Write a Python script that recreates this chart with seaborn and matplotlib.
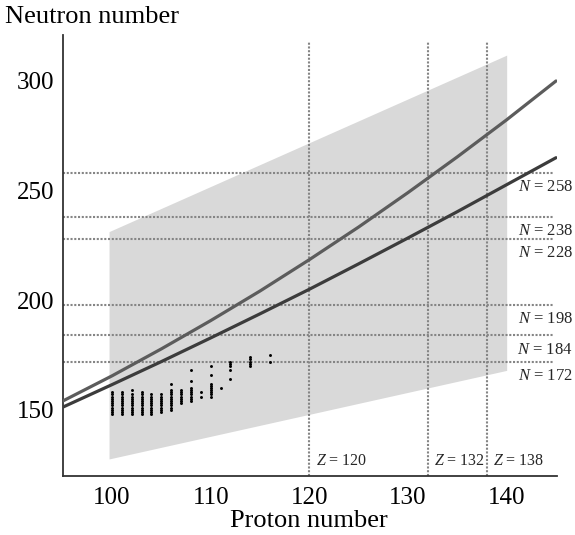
import matplotlib
matplotlib.use("Agg")
import matplotlib.pyplot as plt
import pandas as pd
import seaborn as sns

# Two estimates of the beta-stability line (proton number -> neutron number)
curve_z = [95, 100, 105, 110, 115, 120, 125, 130, 135, 140, 145]
upper_curve_n = [154.0, 165.5, 177.8, 190.7, 204.2, 218.5, 233.4, 249.1, 265.4, 282.3, 300.0]
lower_curve_n = [151.2, 161.5, 172.0, 182.8, 193.8, 205.0, 216.6, 228.4, 240.4, 252.7, 265.0]

# Shaded region of predicted nuclei
band_z = [99.7, 140.0]
band_lower_n = [127.6, 168.0]
band_upper_n = [231.3, 311.8]

# Shell closures
shell_n = [258, 238, 228, 198, 184, 172]
shell_z = [120, 132, 138]

# Known heavy nuclides, one list of neutron numbers per element
known_z = [100, 101, 102, 103, 104, 105, 106, 107, 108, 109, 110, 111, 112, 114, 116]
known_n = [
    [148, 149, 150, 151, 152, 153, 154, 155, 156, 157, 158],
    [148, 149, 150, 151, 152, 153, 154, 155, 156, 157, 158],
    [148, 149, 150, 151, 152, 153, 154, 155, 156, 157, 159],
    [148, 149, 150, 151, 152, 153, 154, 155, 156, 157, 158],
    [148, 149, 150, 151, 152, 153, 154, 155, 156, 157],
    [149, 150, 151, 152, 153, 154, 155, 156, 157],
    [150, 151, 152, 153, 154, 155, 156, 157, 158, 159, 162],
    [153, 154, 155, 156, 157, 158, 159],
    [154, 155, 156, 157, 158, 159, 160, 163, 168],
    [156, 158],
    [156, 157, 158, 159, 160, 161, 162, 166, 170],
    [160],
    [164, 168, 170, 171, 172],
    [170, 171, 172, 173, 174],
    [172, 175],
]

x_ticks = [100, 110, 120, 130, 140]
y_ticks = [150, 200, 250, 300]

sns.set_theme(style="white")
plt.rcParams["font.family"] = ["Liberation Serif", "DejaVu Serif"]
plt.rcParams["mathtext.fontset"] = "custom"
plt.rcParams["mathtext.it"] = "Liberation Serif:italic"
plt.rcParams["mathtext.rm"] = "Liberation Serif"

curves = pd.DataFrame({
    "Z": curve_z * 2,
    "N": upper_curve_n + lower_curve_n,
    "curve": ["upper"] * len(curve_z) + ["lower"] * len(curve_z),
})
nuclides = pd.DataFrame(
    [(z, n) for z, ns in zip(known_z, known_n) for n in ns], columns=["Z", "N"]
)

fig = plt.figure(figsize=(5.75, 5.35), dpi=100)
ax = fig.add_axes([0.109, 0.111, 0.8597, 0.8237])

ax.fill_between(band_z, band_lower_n, band_upper_n, color="#d9d9d9", lw=0, zorder=1)

dot_style = dict(color="#858585", lw=1.5, ls=(0, (1, 0.8)), zorder=2)
ax.hlines(shell_n, 95, 144.8, **dot_style)
ax.vlines(shell_z, 120, 318, **dot_style)

sns.lineplot(data=curves, x="Z", y="N", hue="curve", sort=False,
             palette={"upper": "#5c5c5c", "lower": "#3c3c3c"},
             linewidth=2.3, legend=False, ax=ax, zorder=3)
sns.scatterplot(data=nuclides, x="Z", y="N", color="black", s=4.5,
                linewidth=0, marker="o", legend=False, ax=ax, zorder=4)

for n in shell_n:
    ax.annotate(f"$N$ = {n}", xy=(146.7, n), xytext=(0, -4.5),
                textcoords="offset points", ha="right", va="top",
                fontsize=12, annotation_clip=False)
for z in shell_z:
    ax.annotate(f"$Z$ = {z}", xy=(z, 125), xytext=(4.5, 0),
                textcoords="offset points", ha="left", va="baseline",
                fontsize=11.5)

ax.set_xlim(95, 145.1)
ax.set_ylim(120, 321)
ax.set_xticks(x_ticks)
ax.set_yticks(y_ticks)

for side in ["top", "right"]:
    ax.spines[side].set_visible(False)
for side in ["left", "bottom"]:
    ax.spines[side].set_color("#333333")
    ax.spines[side].set_linewidth(1.3)
ax.tick_params(direction="in", length=7, width=1.3, color="#333333",
               labelsize=18, labelcolor="black", pad=6)
ax.tick_params(axis="x", pad=8.5)

ax.set_xlabel("Proton number", fontsize=19, color="black")
ax.xaxis.set_label_coords(0.498, -0.078)
ax.set_ylabel("Neutron number", rotation=0, fontsize=19, color="black",
              ha="left", va="center")
ax.yaxis.set_label_coords(-0.117, 1.04)

fig.savefig("out.png", dpi=100)
